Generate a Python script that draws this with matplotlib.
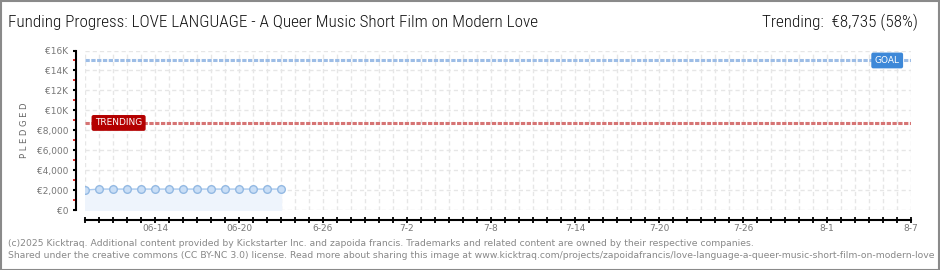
import numpy as np
import matplotlib
matplotlib.use("Agg")
import matplotlib.pyplot as plt
import matplotlib.dates as mdates
from matplotlib.patches import Rectangle
from matplotlib.ticker import FixedLocator

# data
days = np.arange(np.datetime64("2025-06-09"), np.datetime64("2025-06-24"))
pledged = [2000, 2100, 2100, 2100, 2100, 2100, 2100, 2100,
           2100, 2100, 2100, 2100, 2100, 2100, 2100]
goal = 15000
trending = 8735
trend_pct = 58

x_start = np.datetime64("2025-06-09")
x_end = np.datetime64("2025-08-07")
label_days = ["2025-06-14", "2025-06-20", "2025-06-26", "2025-07-02", "2025-07-08",
              "2025-07-14", "2025-07-20", "2025-07-26", "2025-08-01", "2025-08-07"]
label_text = ["06-14", "06-20", "6-26", "7-2", "7-8", "7-14", "7-20", "7-26", "8-1", "8-7"]
ytick_vals = [0, 2000, 4000, 6000, 8000, 10000, 12000, 14000, 16000]
ytick_text = ["€0", "€2,000", "€4,000", "€6,000", "€8,000", "€10K", "€12K", "€14K", "€16K"]

title = "Funding Progress: LOVE LANGUAGE - A Queer Music Short Film on Modern Love"
footer1 = ("(c)2025 Kicktraq. Additional content provided by Kickstarter Inc. and zapoida francis. "
           "Trademarks and related content are owned by their respective companies.")
footer2 = ("Shared under the creative commons (CC BY-NC 3.0) license. Read more about sharing this image at "
           "www.kicktraq.com/projects/zapoidafrancis/love-language-a-queer-music-short-film-on-modern-love")

title_font = ["Roboto Condensed", "Roboto", "DejaVu Sans"]

W, H = 940, 270
fig = plt.figure(figsize=(W / 100, H / 100), dpi=100)
fig.patch.set_facecolor("white")

# plot area in pixels: x 85..911, y 50.5..210
ax = fig.add_axes([85 / W, (H - 210) / H, (911 - 85) / W, (210 - 50.5) / H])
ax.set_facecolor("white")

xd = mdates.date2num(days.astype("datetime64[D]").astype(object))
x0 = mdates.date2num(x_start.astype(object))
x1 = mdates.date2num(x_end.astype(object))

# grid
grid_kw = dict(color="#e6e6e6", lw=1, ls=(0, (3, 2.2)), zorder=0)
for d in np.arange(x0, x1 + 1):
    ax.axvline(d, **grid_kw)
for v in ytick_vals:
    ax.axhline(v, **grid_kw)

# pledged series
ax.fill_between(xd, 0, pledged, color="#eef4fc", zorder=1)
ax.plot(xd, pledged, color="#a9c9ee", lw=1, zorder=3,
        marker="o", ms=5.5, mfc="#c9def6", mec="#93b9e3", mew=1)

# goal and trending lines
ax.axhline(goal, color="#9dbde6", lw=2.2, ls=(0, (1.4, 0.5)), zorder=2)
ax.axhline(trending, color="#d67474", lw=2.2, ls=(0, (1.4, 0.5)), zorder=2)

ax.text(x1 - 1.7, goal, "GOAL", color="white", fontsize=6.5, ha="center", va="center",
        family="DejaVu Sans", zorder=5,
        bbox=dict(boxstyle="round,pad=0.3,rounding_size=0.15", fc="#3d88d8", ec="#3d88d8"))
ax.text(x0 + 2.4, trending, "TRENDING", color="white", fontsize=6.5, ha="center", va="center",
        family="DejaVu Sans", zorder=5,
        bbox=dict(boxstyle="round,pad=0.3,rounding_size=0.15", fc="#b40000", ec="#b40000"))

ax.set_xlim(x0, x1)
ax.set_ylim(0, 16000)

for s in ["top", "right"]:
    ax.spines[s].set_visible(False)
ax.spines["left"].set_position(("outward", 6.5))
ax.spines["bottom"].set_position(("outward", 7.2))
for s in ["left", "bottom"]:
    ax.spines[s].set_linewidth(1.5)
    ax.spines[s].set_color("black")

ax.yaxis.set_major_locator(FixedLocator(ytick_vals))
ax.set_yticklabels(ytick_text)
ax.yaxis.set_minor_locator(FixedLocator(np.arange(1000, 16000, 2000)))
ax.tick_params(axis="y", which="major", direction="out", length=2.5, width=1.5,
               color="black", labelsize=6.5, labelcolor="#777777", pad=3)
ax.tick_params(axis="y", which="minor", direction="out", length=2.5, width=1.2, color="#dd0000")

lab_x = [mdates.date2num(np.datetime64(d).astype(object)) for d in label_days]
ax.xaxis.set_major_locator(FixedLocator(lab_x))
ax.set_xticklabels(label_text)
ax.xaxis.set_minor_locator(FixedLocator(np.arange(x0, x1 + 1)))
ax.tick_params(axis="x", which="both", direction="inout", length=5, width=1.3,
               color="black", labelsize=6.5, labelcolor="#777777", pad=0.5)

ax.set_ylabel("P L E D G E D", fontsize=6, color="#666666", labelpad=6)

# title and trending summary
fig.text(8 / W, 1 - 22 / H, title, fontsize=12.3, color="#111111", va="center", ha="left",
         family=title_font, fontweight="light")
fig.text(918 / W, 1 - 22 / H, f"Trending:  €{trending:,} ({trend_pct}%)", fontsize=12.3,
         color="#111111", va="center", ha="right", family=title_font, fontweight="light")

# footer
fig.text(8 / W, 1 - 243 / H, footer1, fontsize=6.65, color="#888888", va="center", ha="left")
fig.text(8 / W, 1 - 255 / H, footer2, fontsize=6.65, color="#888888", va="center", ha="left")

# outer frame
fig.patches.append(Rectangle((0.5 / W, 0.5 / H), 1 - 1.5 / W, 1 - 1.5 / H,
                             transform=fig.transFigure, fill=False, ec="#8a8a8a", lw=1.5))

fig.savefig("out.png", dpi=100)
